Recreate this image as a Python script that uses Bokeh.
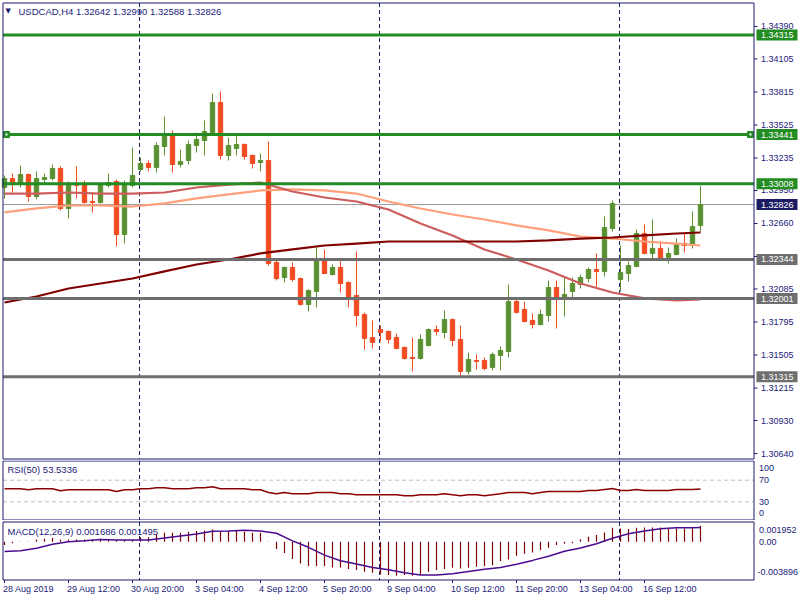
from bokeh.plotting import figure
from bokeh.models import Range1d, ColumnDataSource
from bokeh.layouts import column
from bokeh.core.properties import value
from bokeh.embed import file_html
from bokeh.resources import INLINE

# ---------------- data ----------------
symbol = "USDCAD,H4"
opens = [1.32976, 1.33055, 1.33020, 1.33090, 1.32897, 1.33046, 1.33055, 1.33143, 1.32792, 1.33011,
         1.33002, 1.32853, 1.32844, 1.32994, 1.33029, 1.32563, 1.32994, 1.33134, 1.33187, 1.33152,
         1.33336, 1.33450, 1.33178, 1.33213, 1.33345, 1.33389, 1.33459, 1.33722, 1.33257, 1.33319,
         1.33354, 1.33257, 1.33196, 1.33213, 1.32318, 1.32186, 1.32274, 1.32177, 1.31949, 1.32063,
         1.32344, 1.32212, 1.32274, 1.32142, 1.32028, 1.31861, 1.31659, 1.31729, 1.31712, 1.31659,
         1.31572, 1.31484, 1.31475, 1.31589, 1.31729, 1.31703, 1.31817, 1.31642, 1.31361, 1.31457,
         1.31457, 1.31396, 1.31501, 1.31536, 1.31975, 1.31905, 1.31809, 1.31773, 1.31852, 1.32098,
         1.32010, 1.32063, 1.32125, 1.32177, 1.32256, 1.32239, 1.32616, 1.32168, 1.32221, 1.32283,
         1.32572, 1.32397, 1.32441, 1.32362, 1.32388, 1.32485, 1.32467, 1.32642]
highs = [1.33081, 1.33099, 1.33169, 1.33099, 1.33117, 1.33099, 1.33178, 1.33161, 1.33029, 1.33161,
         1.33038, 1.32932, 1.33020, 1.33099, 1.33046, 1.33038, 1.33327, 1.33239, 1.33213, 1.33371,
         1.33600, 1.33477, 1.33310, 1.33389, 1.33459, 1.33565, 1.33801, 1.33819, 1.33415, 1.33433,
         1.33362, 1.33266, 1.33275, 1.33380, 1.32353, 1.32283, 1.32318, 1.32186, 1.32081, 1.32450,
         1.32432, 1.32300, 1.32335, 1.32151, 1.32414, 1.31879, 1.31809, 1.31765, 1.31720, 1.31694,
         1.31580, 1.31659, 1.31686, 1.31738, 1.31765, 1.31896, 1.31825, 1.31765, 1.31528, 1.31510,
         1.31484, 1.31528, 1.31580, 1.32125, 1.32002, 1.31975, 1.31870, 1.31905, 1.32160, 1.32160,
         1.32186, 1.32186, 1.32212, 1.32274, 1.32397, 1.32722, 1.32862, 1.32467, 1.32326, 1.32607,
         1.32651, 1.32695, 1.32502, 1.32450, 1.32528, 1.32581, 1.32766, 1.32990]
lows = [1.32880, 1.32932, 1.32976, 1.32853, 1.32871, 1.33020, 1.33038, 1.32774, 1.32704, 1.32880,
        1.32836, 1.32757, 1.32836, 1.32976, 1.32458, 1.32484, 1.32976, 1.33117, 1.33117, 1.33108,
        1.33257, 1.33108, 1.33152, 1.33178, 1.33283, 1.33257, 1.33433, 1.33222, 1.33213, 1.33257,
        1.33222, 1.33143, 1.33117, 1.32291, 1.32160, 1.32142, 1.32151, 1.31940, 1.31888, 1.31923,
        1.32215, 1.32204, 1.32054, 1.31923, 1.31756, 1.31554, 1.31563, 1.31624, 1.31607, 1.31554,
        1.31466, 1.31361, 1.31466, 1.31580, 1.31677, 1.31651, 1.31580, 1.31308, 1.31334, 1.31378,
        1.31370, 1.31370, 1.31370, 1.31484, 1.31870, 1.31791, 1.31738, 1.31765, 1.31800, 1.31738,
        1.31844, 1.31993, 1.32089, 1.32142, 1.32098, 1.32195, 1.32590, 1.32063, 1.32151, 1.32275,
        1.32390, 1.32335, 1.32335, 1.32309, 1.32380, 1.32406, 1.32441, 1.32588]
closes = [1.33055, 1.33020, 1.33090, 1.32897, 1.33055, 1.33064, 1.33143, 1.32792, 1.33011, 1.32994,
          1.32844, 1.32844, 1.33002, 1.33020, 1.32563, 1.33002, 1.33081, 1.33187, 1.33152, 1.33345,
          1.33450, 1.33178, 1.33204, 1.33354, 1.33398, 1.33468, 1.33722, 1.33257, 1.33345, 1.33354,
          1.33248, 1.33187, 1.33213, 1.32309, 1.32177, 1.32274, 1.32168, 1.31949, 1.32072, 1.32344,
          1.32221, 1.32274, 1.32133, 1.32019, 1.31852, 1.31651, 1.31615, 1.31703, 1.31642, 1.31563,
          1.31475, 1.31475, 1.31642, 1.31729, 1.31712, 1.31817, 1.31633, 1.31361, 1.31466, 1.31449,
          1.31387, 1.31510, 1.31545, 1.31975, 1.31879, 1.31800, 1.31773, 1.31861, 1.32098, 1.32010,
          1.32037, 1.32133, 1.32186, 1.32256, 1.32239, 1.32625, 1.32836, 1.32230, 1.32291, 1.32572,
          1.32397, 1.32441, 1.32353, 1.32397, 1.32485, 1.32467, 1.32634, 1.32826]

time_labels = ["28 Aug 2019", "29 Aug 12:00", "30 Aug 20:00", "3 Sep 04:00", "4 Sep 12:00",
               "5 Sep 20:00", "9 Sep 04:00", "10 Sep 12:00", "11 Sep 20:00", "13 Sep 04:00",
               "16 Sep 12:00"]
time_label_bars = [0, 8, 16, 24, 32, 40, 48, 56, 64, 72, 80]
week_separator_bars = [17, 47, 77]

price_ticks = [1.34390, 1.34105, 1.33815, 1.33525, 1.33235, 1.32950, 1.32660, 1.32370,
               1.32085, 1.31795, 1.31505, 1.31215, 1.30930, 1.30640]
resistance_levels = [1.34315, 1.33441, 1.33008]
support_levels = [1.32344, 1.32001, 1.31315]

ma_bars = [0, 4, 8, 12, 16, 20, 24, 28, 32, 36, 40, 44, 48, 52, 56, 60, 64, 68, 72, 76, 80, 84, 87]
ma_fast = [1.32923, 1.32923, 1.32932, 1.32923, 1.32923, 1.32932, 1.32976, 1.33002, 1.33020, 1.32941,
           1.32888, 1.32853, 1.32783, 1.32660, 1.32555, 1.32432, 1.32344, 1.32247, 1.32133, 1.32054,
           1.32002, 1.31984, 1.31993]
ma_mid = [1.32757, 1.32792, 1.32818, 1.32818, 1.32809, 1.32836, 1.32880, 1.32915, 1.32950, 1.32959,
          1.32950, 1.32923, 1.32853, 1.32792, 1.32739, 1.32695, 1.32643, 1.32599, 1.32546, 1.32528,
          1.32502, 1.32484, 1.32467]
ma_slow = [1.31966, 1.32019, 1.32089, 1.32133, 1.32177, 1.32239, 1.32300, 1.32344, 1.32397, 1.32432,
           1.32467, 1.32484, 1.32502, 1.32502, 1.32502, 1.32502, 1.32502, 1.32511, 1.32528, 1.32537,
           1.32555, 1.32572, 1.32581]

rsi_values = [54.1, 54.1, 54.1, 52.2, 54.1, 54.1, 54.1, 50.3, 52.2, 52.2,
              52.2, 52.2, 52.2, 52.2, 49.1, 52.2, 52.2, 54.1, 54.1, 55.9,
              55.9, 54.1, 54.1, 54.1, 55.9, 55.9, 57.8, 54.1, 54.1, 54.1,
              54.1, 52.2, 52.2, 47.2, 44.8, 47.2, 44.8, 44.8, 44.8, 47.2,
              47.2, 47.2, 44.8, 44.8, 43.0, 43.0, 43.0, 43.0, 43.0, 43.0,
              41.1, 41.1, 43.0, 43.0, 43.0, 44.8, 43.0, 41.1, 43.0, 43.0,
              41.1, 43.0, 44.8, 47.2, 47.2, 47.2, 44.8, 47.2, 49.1, 49.1,
              49.1, 49.1, 49.1, 50.9, 50.9, 52.8, 54.6, 50.9, 50.9, 52.8,
              50.9, 50.9, 50.9, 50.9, 52.8, 52.8, 52.8, 53.5336]
rsi_levels = [70, 30]
rsi_scale_labels = ["100", "70", "30", "0"]

macd_hist = [-0.00035, -0.00014, 0.00002, 0.00003, 0.00024, 0.00032, 0.00042, 0.00024, 0.00024, 0.00024,
             0.00024, 0.00024, 0.00032, 0.00024, 0.00018, 0.00018, 0.00018, 0.00049, 0.00049, 0.00077,
             0.00095, 0.00095, 0.00095, 0.00105, 0.00113, 0.00119, 0.00130, 0.00113, 0.00113, 0.00113,
             0.00105, 0.00095, 0.00095, 0.00003, -0.00077, -0.00119, -0.00182, -0.00229, -0.00256, -0.00256,
             -0.00256, -0.00271, -0.00271, -0.00288, -0.00298, -0.00316, -0.00327, -0.00345, -0.00351, -0.00358,
             -0.00351, -0.00358, -0.00351, -0.00316, -0.00298, -0.00288, -0.00274, -0.00281, -0.00274, -0.00264,
             -0.00256, -0.00246, -0.00203, -0.00187, -0.00148, -0.00126, -0.00113, -0.00087, -0.00063, -0.00035,
             -0.00021, -0.00014, 0.00028, 0.00053, 0.00071, 0.00098, 0.00148, 0.00140, 0.00134, 0.00148,
             0.00151, 0.00151, 0.00151, 0.00140, 0.00140, 0.00140, 0.00148, 0.001686]
signal_bars = list(range(0, 88, 2)) + [87]
macd_signal = [-0.00103, -0.00095, -0.00068, -0.00025, 0.00000, 0.00011, 0.00025, 0.00018, 0.00018, 0.00020,
               0.00040, 0.00062, 0.00083, 0.00110, 0.00115, 0.00121, 0.00115, 0.00090, 0.00010, -0.00058,
               -0.00140, -0.00200, -0.00235, -0.00270, -0.00295, -0.00326, -0.00350, -0.00351, -0.00336, -0.00312,
               -0.00290, -0.00270, -0.00236, -0.00196, -0.00152, -0.00100, -0.00065, -0.00020, 0.00038, 0.00085,
               0.00113, 0.00138, 0.00148, 0.00148, 0.001495]
macd_scale_labels = ["0.001952", "0.00", "-0.003896"]

# ---------------- style / layout constants ----------------
FONT = "Liberation Sans"
NAVY = "#1a1a6e"
TEXT = "#22227a"
BULL = "#5a9130"
BEAR = "#f14b22"
LEVEL_GREEN = "#228b22"
LEVEL_GRAY = "#6e6e6e"
W = 800
X0, X1 = -0.5, 99.5              # bar units over the full page width (8 px per bar)
shared_x = Range1d(X0, X1)


def bx(px_):
    """page pixel x -> bar coordinate"""
    return X0 + px_ * (X1 - X0) / W


LEFT = bx(2.5)       # left border of the chart panels
AXIS = bx(753.5)     # price axis line / right border


class Panel:
    def __init__(self, height, ylo, yhi, top_px, bottom_px):
        self.h, self.ylo, self.yhi = height, ylo, yhi
        f = figure(width=W, height=height, x_range=shared_x, y_range=Range1d(ylo, yhi),
                   output_backend="svg", toolbar_location=None, min_border=0,
                   x_axis_location=None, y_axis_location=None)
        f.grid.visible = False
        f.outline_line_color = None
        f.background_fill_color = "white"
        f.border_fill_color = "white"
        self.f = f
        self.top = self.y(top_px)
        self.bottom = self.y(bottom_px)
        # weekly period separators
        f.segment(x0=[b - 0.12 for b in week_separator_bars], x1=[b - 0.12 for b in week_separator_bars],
                  y0=self.top, y1=self.bottom, line_color=NAVY, line_dash="4 3", line_width=1)

    def y(self, py):
        """local pixel y (from top of this panel) -> data value"""
        return self.yhi - py * (self.yhi - self.ylo) / self.h

    def text(self, xs, ys, texts, color=TEXT, size="9px", font=FONT, align="left"):
        self.f.text(x=xs, y=ys, text=texts, text_font=value(font), text_font_size=value(size),
                    text_color=color, text_align=align, text_baseline="middle")

    def finish(self):
        f = self.f
        f.quad(left=LEFT, right=AXIS, top=self.top, bottom=self.bottom, fill_color=None,
               line_color=NAVY, line_width=1)


# ---------------- main price panel ----------------
main = Panel(460, 1.30579, 1.34618, 2.5, 458.5)
m = main.f
m.segment(x0=LEFT, x1=AXIS, y0=closes[-1], y1=closes[-1], line_color="#9a9a9a", line_width=1)

bars = list(range(len(opens)))
src = ColumnDataSource(dict(
    x=bars, high=highs, low=lows,
    top=[max(o, c) for o, c in zip(opens, closes)],
    bottom=[min(o, c) for o, c in zip(opens, closes)],
    color=[BULL if c >= o else BEAR for o, c in zip(opens, closes)],
))
m.segment(x0="x", y0="high", x1="x", y1="low", line_color="color", line_width=1, source=src)
m.vbar(x="x", width=0.55, top="top", bottom="bottom", fill_color="color",
       line_color="color", line_width=1, source=src)

m.line(ma_bars, ma_mid, line_color="#ffa07a", line_width=2.2)
m.line(ma_bars, ma_fast, line_color="#cd5c5c", line_width=2.2)
m.line(ma_bars, ma_slow, line_color="#800000", line_width=2.2)

m.segment(x0=LEFT, x1=AXIS, y0=resistance_levels, y1=resistance_levels, line_color=LEVEL_GREEN, line_width=3)
m.segment(x0=LEFT, x1=AXIS, y0=support_levels, y1=support_levels, line_color=LEVEL_GRAY, line_width=3)
m.scatter([bx(6), bx(750)], [resistance_levels[1]] * 2, marker="square",
          size=6, fill_color=LEVEL_GREEN, line_color=LEVEL_GREEN)
m.scatter([bx(6), bx(750)], [resistance_levels[1]] * 2, marker="square",
          size=2, fill_color="white", line_color=None)

# price axis: ticks + labels
m.segment(x0=AXIS, x1=bx(757), y0=price_ticks, y1=price_ticks, line_color=NAVY, line_width=1)
main.text([bx(760.5)] * len(price_ticks), price_ticks, [f"{t:.5f}" for t in price_ticks])


def tag(y, txt, bg):
    m.rect(x=bx(776.5), y=y, width=41, height=11, width_units="screen", height_units="screen",
           fill_color=bg, line_color=None)
    main.text([bx(760.5)], [y], [txt], color="white")


for lv in resistance_levels:
    tag(lv, f"{lv:.5f}", LEVEL_GREEN)
for lv in support_levels:
    tag(lv, f"{lv:.5f}", LEVEL_GRAY)
tag(closes[-1], f"{closes[-1]:.5f}", "#1c1c64")

main.text([bx(5)], [main.y(10.5)], ["\u25BC"], color=NAVY, size="7px", font="DejaVu Sans")
main.text([bx(18)], [main.y(10.5)],
          [f"{symbol}  {opens[-1]:.5f} {highs[-1]:.5f} {lows[-1]:.5f} {closes[-1]:.5f}"], size="9.5px")
main.finish()

# ---------------- RSI panel ----------------
rsi = Panel(60, -4.63, 106.48, 0.5, 59.5)
r = rsi.f
r.segment(x0=LEFT, x1=AXIS, y0=rsi_levels, y1=rsi_levels, line_color="#c0c0c0", line_dash="4 3", line_width=1)
r.line(bars, rsi_values, line_color="#8b0000", line_width=1.5)
rsi.text([bx(758.5)] * 4, [rsi.y(7.7), 70, 29, rsi.y(52.7)], rsi_scale_labels)
rsi.text([bx(7)], [rsi.y(9.3)], [f"RSI(50) {rsi_values[-1]:.4f}"], size="9.5px")
rsi.finish()

# ---------------- MACD panel ----------------
macd = Panel(80, -0.006187, 0.002245, 1.5, 59.5)
mc = macd.f
mc.segment(x0=bars, y0=[0] * len(bars), x1=bars, y1=macd_hist, line_color="#800000", line_width=1.2)
mc.line(signal_bars, macd_signal, line_color="#4b0b8f", line_width=1.5)
macd.text([bx(758.5), bx(758.5), bx(757)], [macd.y(9), 0, macd.y(51.3)], macd_scale_labels)
macd.text([bx(7)], [macd.y(10.7)],
          [f"MACD(12,26,9) {macd_hist[-1]:.6f} {macd_signal[-1]:.6f}"], size="9.5px")
# time axis ticks + labels
mc.segment(x0=time_label_bars, x1=time_label_bars, y0=macd.y(59.5), y1=macd.y(62.5),
           line_color=NAVY, line_width=1)
macd.text([b - 1.5 / 8 for b in time_label_bars], [macd.y(68.5)] * len(time_label_bars), time_labels)
macd.finish()

layout = column(main.f, rsi.f, macd.f, spacing=0)
open("out.html", "w").write(file_html(layout, INLINE))
